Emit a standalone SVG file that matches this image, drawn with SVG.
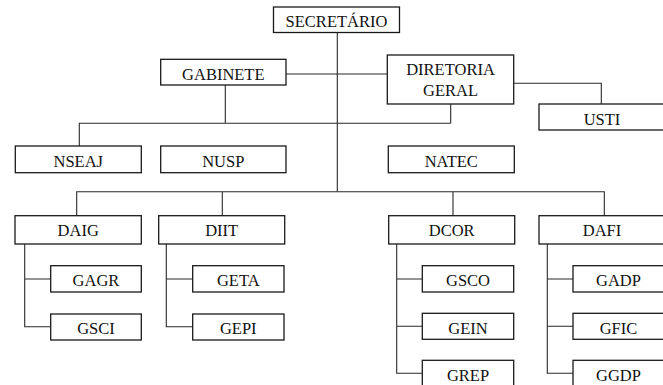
<svg xmlns="http://www.w3.org/2000/svg" width="663" height="385" viewBox="0 0 663 385">
<style>
.b{fill:#fff;stroke:#1a1a1a;stroke-width:1.3}
.t{font-family:"Liberation Serif","Times New Roman",serif;font-size:16.5px;fill:#111;text-anchor:middle}
.c{fill:none;stroke:#2a2a2a;stroke-width:1.1}
</style>
<rect width="663" height="385" fill="#fff"/>
<g id="connectors">
<path class="c" d="M337.3,32.3V191.7"/>
<path class="c" d="M286,74H387.3"/>
<path class="c" d="M513.7,83.3H601.3V104"/>
<path class="c" d="M225.3,85V123.3M450.7,104V123.3M79.3,146V123.3H450.7"/>
<path class="c" d="M76.7,215.7V191.7H604.3V215.7M222.3,191.7V215.7M453,191.7V215.7"/>
<path class="c" d="M24.7,244V326.7H50.7M24.7,279H50.7"/>
<path class="c" d="M166.3,244V326.7H192.7M166.3,279H192.7"/>
<path class="c" d="M396.7,244V373.3H422.3M396.7,279H422.3M396.7,326.3H422.3"/>
<path class="c" d="M547.3,244V373.3H573M547.3,279H573M547.3,326.3H573"/>
</g>
<g id="secretario"><rect class="b" x="273.5" y="7" width="126" height="25.5"/><text class="t" x="336.5" y="27">SECRETÁRIO</text></g>
<g id="gabinete"><rect class="b" x="160.7" y="59.3" width="125.3" height="25.7"/><text class="t" x="223.3" y="79.5">GABINETE</text></g>
<g id="diretoria"><rect class="b" x="387.3" y="55" width="126.4" height="49"/><text class="t" x="450.5" y="75">DIRETORIA</text><text class="t" x="450.5" y="96">GERAL</text></g>
<g id="usti"><rect class="b" x="539" y="104" width="126" height="26"/><text class="t" x="602" y="124.5">USTI</text></g>
<g id="nseaj"><rect class="b" x="15.3" y="146" width="126" height="26.7"/><text class="t" x="78.3" y="166.7">NSEAJ</text></g>
<g id="nusp"><rect class="b" x="160.7" y="146" width="125.3" height="26.7"/><text class="t" x="223.3" y="166.7">NUSP</text></g>
<g id="natec"><rect class="b" x="388.3" y="146" width="126" height="26.7"/><text class="t" x="451.3" y="166.7">NATEC</text></g>
<g id="daig"><rect class="b" x="15" y="215.7" width="126.3" height="28.3"/><text class="t" x="78.2" y="236.2">DAIG</text></g>
<g id="diit"><rect class="b" x="158.7" y="215.7" width="126" height="28.3"/><text class="t" x="221.7" y="236.2">DIIT</text></g>
<g id="dcor"><rect class="b" x="388.7" y="215.7" width="126" height="28.3"/><text class="t" x="451.7" y="236.2">DCOR</text></g>
<g id="dafi"><rect class="b" x="539" y="215.7" width="126" height="28.3"/><text class="t" x="602" y="236.2">DAFI</text></g>
<g id="gagr"><rect class="b" x="50.7" y="265.7" width="90.6" height="26.3"/><text class="t" x="96" y="286">GAGR</text></g>
<g id="gsci"><rect class="b" x="50.7" y="314" width="90.6" height="26"/><text class="t" x="96" y="334.3">GSCI</text></g>
<g id="geta"><rect class="b" x="192.7" y="265.7" width="91.3" height="26.3"/><text class="t" x="238.3" y="286">GETA</text></g>
<g id="gepi"><rect class="b" x="192.7" y="314" width="91.3" height="26"/><text class="t" x="238.3" y="334.3">GEPI</text></g>
<g id="gsco"><rect class="b" x="422.3" y="265.7" width="91.4" height="26.3"/><text class="t" x="468" y="286">GSCO</text></g>
<g id="gein"><rect class="b" x="422.3" y="313.3" width="91.4" height="26"/><text class="t" x="468" y="333.6">GEIN</text></g>
<g id="grep"><rect class="b" x="422.3" y="360.3" width="91.4" height="26"/><text class="t" x="468" y="380.6">GREP</text></g>
<g id="gadp"><rect class="b" x="573" y="265.7" width="91" height="26.3"/><text class="t" x="618.5" y="286">GADP</text></g>
<g id="gfic"><rect class="b" x="573" y="313.3" width="91" height="26"/><text class="t" x="618.5" y="333.6">GFIC</text></g>
<g id="ggdp"><rect class="b" x="573" y="360.3" width="91" height="26"/><text class="t" x="618.5" y="380.6">GGDP</text></g>
</svg>
